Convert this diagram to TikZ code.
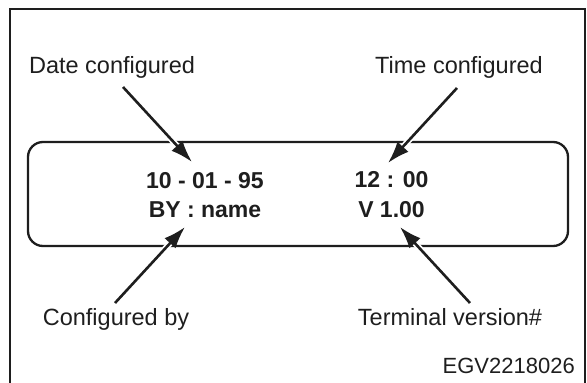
\documentclass[tikz,border=0pt]{standalone}
\usepackage{fontspec}
\setmainfont{Liberation Sans}
\usetikzlibrary{positioning, arrows.meta, calc}
\definecolor{colInk}{HTML}{1E1E1E}

\begin{document}
\begin{tikzpicture}[
    x=1pt, y=-1pt,
    font=\fontsize{23.5}{28}\selectfont,
    frame/.style={draw=colInk, line width=1.3pt},
    screen/.style={draw=colInk, line width=2.3pt, rounded corners=15pt,
                   minimum width=540pt, minimum height=104pt, inner sep=0pt},
    val/.style={inner sep=0pt, anchor=base, text=colInk,
                font=\fontsize{23}{27}\selectfont\bfseries},
    lbl/.style={inner sep=0pt, anchor=base, text=colInk},
    arr/.style={-{Latex[length=22pt, width=15pt]}, line width=2.6pt, draw=colInk,
                preaction={draw=white, -, line width=6pt, shorten >=16pt}},
]
\useasboundingbox (0,0) rectangle (587,383);

% ---- Outer frame (open at the bottom) --------------------------------------
\draw[frame] (10,383) |- (585,9) -- (585,383);

% ---- Display panel and its readings ----------------------------------------
\node[screen] (scr) at (298,194) {};

\node[val] (dateVal) at (205,188) {10 - 01 - 95};
\node[val] (byVal)   at (205,217) {BY : name};
\node[val] (timeVal) at (391.5,187) {12 : 00};
\node[val] (verVal)  at (391.5,217) {V 1.00};

% ---- Callout labels ---------------------------------------------------------
\node[lbl] (dateLbl) at (112,73)  {Date configured};
\node[lbl] (timeLbl) at (459,73)  {Time configured};
\node[lbl] (byLbl)   at (116,325) {Configured by};
\node[lbl] (verLbl)  at (450,325) {Terminal version\#};
\node[lbl, anchor=base east, font=\fontsize{22}{26}\selectfont] (figId) at (575,373) {EGV2218026};

% ---- Arrows -----------------------------------------------------------------
\draw[arr] ([xshift=11pt, yshift=-14pt]dateLbl.base) -- ([xshift=-13pt, yshift=26pt]dateVal.base);
\draw[arr] ([xshift=-2pt, yshift=-15pt]timeLbl.base) -- ([xshift=-3.5pt, yshift=24pt]timeVal.base);
\draw[arr] ([xshift=-1pt, yshift=22pt]byLbl.base)   -- ([xshift=-20pt, yshift=-10pt]byVal.base);
\draw[arr] ([xshift=20pt, yshift=22pt]verLbl.base)  -- ([xshift=8.5pt, yshift=-10pt]verVal.base);

\end{tikzpicture}
\end{document}
